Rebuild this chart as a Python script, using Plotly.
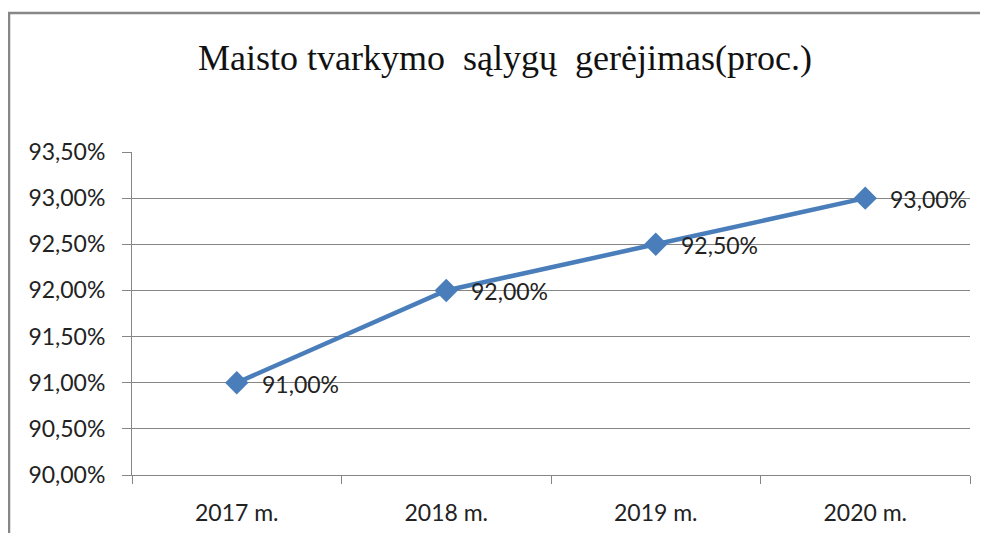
import plotly.graph_objects as go

categories = ["2017 m.", "2018 m.", "2019 m.", "2020 m."]
values = [91.00, 92.00, 92.50, 93.00]
label_texts = ["91,00%", "92,00%", "92,50%", "93,00%"]
y_ticks = [90.0, 90.5, 91.0, 91.5, 92.0, 92.5, 93.0, 93.5]
y_tick_labels = ["90,00%", "90,50%", "91,00%", "91,50%", "92,00%", "92,50%", "93,00%", "93,50%"]
title_text = "Maisto tvarkymo\u00a0 sąlygų\u00a0 gerėjimas(proc.)"

OFF = 8  # page body margin
W, H = 988 - OFF, 533 - OFF
ml, mr, mt, mb = 132 - OFF, 18, 152 - OFF, 58
pw, ph = W - ml - mr, H - mt - mb

fig = go.Figure()
fig.add_trace(go.Scatter(
    x=categories, y=values, mode="lines+markers",
    line=dict(color="#4A7EBB", width=4.5),
    marker=dict(symbol="diamond", size=18, color="#4A7EBB"),
    hoverinfo="skip", showlegend=False,
))

for c, v, t in zip(categories, values, label_texts):
    fig.add_annotation(x=c, y=v, text=t, showarrow=False, xanchor="left",
                       xshift=23, yshift=-1,
                       font=dict(family="Lato", size=23, color="#222"))

def px_x(p):
    return (p - OFF - ml) / pw
def px_y(p):
    return 1 - (p - OFF - mt) / ph

fig.add_shape(type="rect", xref="paper", yref="paper",
              x0=px_x(9), x1=px_x(1010), y0=px_y(13), y1=px_y(570),
              line=dict(color="#878787", width=2.5), layer="above")

fig.update_layout(
    width=W, height=H,
    margin=dict(l=ml, r=mr, t=mt, b=mb, autoexpand=False),
    paper_bgcolor="white", plot_bgcolor="white",
    title=dict(text=title_text, x=px_x(505), xanchor="center",
               y=1 - (57 - OFF) / H, yanchor="middle", xref="paper",
               font=dict(family="Liberation Serif", size=36, color="#111")),
    xaxis=dict(type="category", range=[-0.5, 3.5], showgrid=False,
               showline=True, linecolor="#868686", linewidth=1,
               ticks="outside", ticklen=8, tickcolor="#868686",
               tickson="boundaries", ticklabelstandoff=17, automargin=False,
               tickfont=dict(family="Lato", size=23, color="#222"),
               fixedrange=True),
    yaxis=dict(range=[90.0, 93.5], tickvals=y_ticks, ticktext=y_tick_labels,
               showgrid=True, gridcolor="#868686", gridwidth=1,
               showline=True, linecolor="#868686", linewidth=1,
               ticks="outside", ticklen=9, tickcolor="#868686",
               ticklabelstandoff=12, automargin=False,
               tickfont=dict(family="Lato", size=23, color="#222"),
               zeroline=False, fixedrange=True),
)

fig.write_html("out.html")
